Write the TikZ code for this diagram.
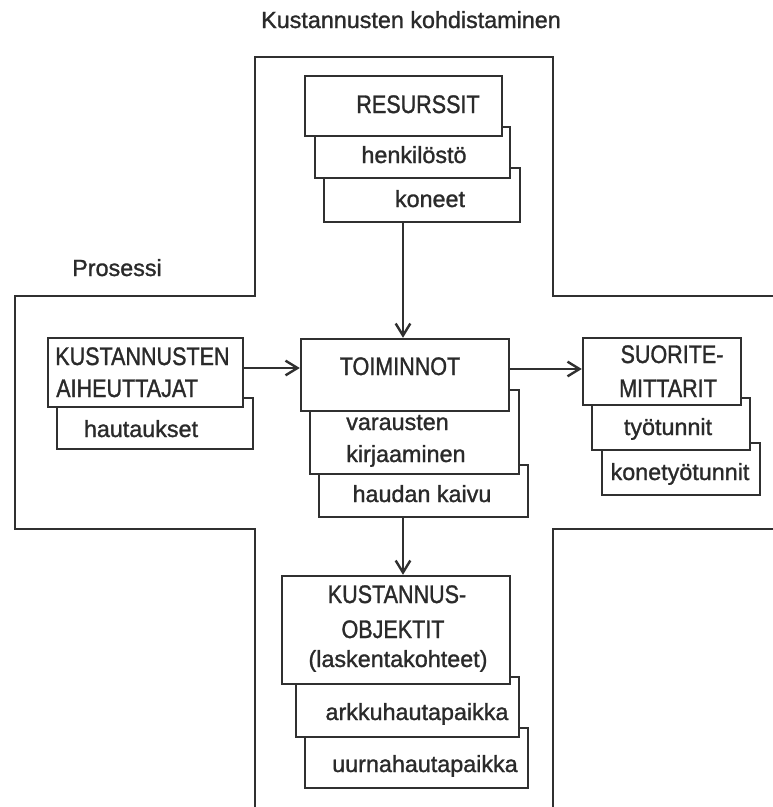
\documentclass[tikz,border=0pt]{standalone}
\usepackage{fontspec}
\setmainfont{Liberation Sans}[FakeBold=1.2]
\newfontfamily\capsfont{Liberation Sans}[FakeStretch=0.85, FakeBold=1.2]
\usetikzlibrary{arrows.meta}
\definecolor{ink}{HTML}{303030}
\definecolor{txt}{HTML}{2A2A2A}
\tikzset{
  outline/.style={draw=ink, line width=1.8pt},
  card/.style={draw=ink, line width=1.8pt, fill=white, rectangle, inner sep=0pt},
  lbl/.style={anchor=base, inner sep=0pt, text=txt, font=\fontsize{17.5}{24}\selectfont},
  lbll/.style={lbl, anchor=base west},
  caps/.style={lbl, font=\capsfont\fontsize{19}{24}\selectfont},
  capsl/.style={caps, anchor=base west},
  flow/.style={draw=ink, line width=1.8pt, -{Straight Barb[length=9pt,width=11pt,line width=1.8pt]}},
}
% a box given by its corners in pixel units
\newcommand{\cardbox}[5]{%
  \node[card, minimum width={(#4-#2)*0.75pt}, minimum height={(#5-#3)*0.75pt}]
    (#1) at ({(#2+#4)/2},{(#3+#5)/2}) {};}
\begin{document}
\begin{tikzpicture}[x=0.75pt, y=-0.75pt]
\useasboundingbox (0,0) rectangle (773,807);

% cross-shaped outline of the process area
\draw[outline] (255,807) -- (255,529) -- (15,529) -- (15,296) -- (255,296)
  -- (255,57) -- (553,57) -- (553,296) -- (773,296);
\draw[outline] (773,529) -- (553,529) -- (553,807);

\node[lbl] (title) at (411,28) {Kustannusten kohdistaminen};
\node[lbl] (proc) at (117,276) {Prosessi};

% resources
\cardbox{kon}{324}{168}{520}{222}
\cardbox{hen}{315}{127}{510}{178}
\cardbox{res}{305}{76}{502}{136}
\node[caps] at (418,113) {RESURSSIT};
\node[lbl] at (414,163) {henkilöstö};
\node[lbl] at (430,207) {koneet};

% activities
\cardbox{kai}{319}{465}{528}{517}
\cardbox{kir}{310}{390}{519}{474}
\cardbox{toi}{301}{339}{509}{411}
\node[caps] at (400,375) {TOIMINNOT};
\node[lbll] at (346,430) {varausten};
\node[lbll] at (346,462) {kirjaaminen};
\node[lbl] at (422,502) {haudan kaivu};

% cost drivers
\cardbox{hau}{57}{398}{253}{449}
\cardbox{aih}{48}{338}{243}{407}
\node[capsl] at (55,365) {KUSTANNUSTEN};
\node[capsl] at (56,397) {AIHEUTTAJAT};
\node[lbl] at (141,437) {hautaukset};

% performance measures
\cardbox{kty}{602}{443}{760}{495}
\cardbox{tyo}{592}{398}{750}{450}
\cardbox{suo}{583}{338}{741}{405}
\node[caps] at (672,363) {SUORITE-};
\node[caps] at (668,397) {MITTARIT};
\node[lbl] at (668,435) {työtunnit};
\node[lbl] at (680,480) {konetyötunnit};

% cost objects
\cardbox{uur}{305}{728}{528}{788}
\cardbox{ark}{296}{677}{519}{737}
\cardbox{obj}{282}{576}{510}{684}
\node[caps] at (397,603) {KUSTANNUS-};
\node[caps] at (393,638) {OBJEKTIT};
\node[lbl] at (398,667) {(laskentakohteet)};
\node[lbl] at (417,720) {arkkuhautapaikka};
\node[lbl] at (425,772) {uurnahautapaikka};

% flows
\draw[flow] (kon.south -| 403,0) -- (toi.north -| 403,0);
\draw[flow] (aih.east |- 0,368) -- (toi.west |- 0,368);
\draw[flow] (toi.east |- 0,369) -- (suo.west |- 0,369);
\draw[flow] (kai.south -| 403,0) -- (obj.north -| 403,0);
\end{tikzpicture}
\end{document}
